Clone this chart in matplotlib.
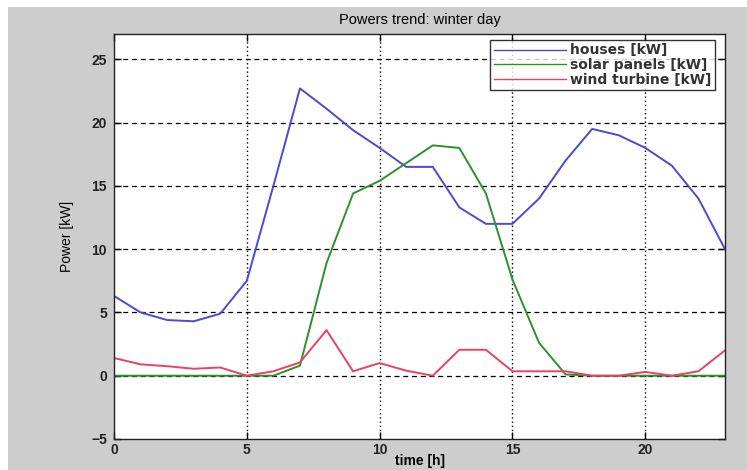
import matplotlib
matplotlib.use("Agg")
import matplotlib.pyplot as plt
from matplotlib.patches import Rectangle

hours = list(range(24))
houses = [6.3, 5.0, 4.4, 4.3, 4.9, 7.5, 15.0, 22.7, 21.1, 19.4, 18.0, 16.5,
          16.5, 13.3, 12.0, 12.0, 14.0, 17.0, 19.5, 19.0, 18.0, 16.6, 14.0, 10.0]
solar = [0, 0, 0, 0, 0, 0, 0, 0.8, 8.9, 14.4, 15.4, 16.8,
         18.2, 18.0, 14.4, 7.6, 2.6, 0.1, 0, 0, 0, 0, 0, 0]
wind = [1.4, 0.9, 0.75, 0.55, 0.65, 0.0, 0.35, 1.05, 3.6, 0.35, 1.0, 0.4,
        0.0, 2.05, 2.05, 0.35, 0.35, 0.35, 0.0, 0.0, 0.3, 0.0, 0.35, 2.0]
series_labels = ["houses [kW]", "solar panels [kW]", "wind turbine [kW]"]
x_ticks = [0, 5, 10, 15, 20]
y_ticks = [-5, 0, 5, 10, 15, 20, 25]

W, H = 747, 470
fig = plt.figure(figsize=(W / 100, H / 100), dpi=100, facecolor="white")
bg = Rectangle((8 / W, 0), 1 - 8 / W, 1 - 7 / H,
               transform=fig.transFigure, facecolor="#cdcdcd",
               edgecolor="none", zorder=-10)
fig.patches.append(bg)

AX_L, AX_R, AX_T, AX_B = 114, 725, 34, 439
AW, AH = AX_R - AX_L, AX_B - AX_T
ax = fig.add_axes([AX_L / W, 1 - AX_B / H, AW / W, AH / H])
ax.set_zorder(1)
ax.set_facecolor("white")

ax.plot(hours, houses, color="#4a4ad2", lw=1.4, label=series_labels[0])
ax.plot(hours, solar, color="#2e8f2e", lw=1.4, label=series_labels[1])
ax.plot(hours, wind, color="#e84262", lw=1.4, label=series_labels[2])

ax.set_xlim(0, 23)
ax.set_ylim(-5, 27)
ax.set_xticks(x_ticks)
ax.set_yticks(y_ticks)

for x in x_ticks[1:]:
    ax.axvline(x, color="black", lw=1.0, ls=(0, (1, 2)), zorder=0.5)
for y in y_ticks[1:]:
    ax.axhline(y, color="black", lw=0.9, ls=(0, (4, 3)), zorder=0.5)

ax.tick_params(direction="in", top=True, right=True, length=5, width=1,
               labelsize=10)
ax.tick_params(axis="x", pad=3)
ax.tick_params(axis="y", pad=5)
for lab in ax.get_xticklabels() + ax.get_yticklabels():
    lab.set_fontfamily("Liberation Sans")
    lab.set_fontweight("bold")
    lab.set_color("#222222")
for s in ax.spines.values():
    s.set_linewidth(1.0)
    s.set_color("#222222")

ax.set_title("Powers trend: winter day", fontsize=10.5, family="Liberation Sans",
             pad=7)
ax.set_xlabel("time [h]", fontsize=10, family="Liberation Sans",
              fontweight="bold")
ax.xaxis.set_label_coords((420 - AX_L) / AW, -(461 - AX_B) / AH)
ax.xaxis.label.set_va("center")
ax.set_ylabel("Power [kW]", fontsize=10, family="Liberation Sans")
ax.yaxis.set_label_coords(-(AX_L - 67) / AW, 0.5)
ax.yaxis.label.set_va("center")

leg = ax.legend(loc="upper right",
                bbox_to_anchor=((715 - AX_L) / AW, (AX_B - 40) / AH),
                prop={"family": "DejaVu Sans", "size": 10, "weight": "bold"},
                frameon=True, fancybox=False, edgecolor="black",
                handlelength=5.2, handletextpad=0.3, borderpad=0.25,
                labelspacing=0.05, borderaxespad=0.0)
leg.get_frame().set_linewidth(1.0)
for t in leg.get_texts():
    t.set_color("#333333")
for l in leg.get_lines():
    l.set_linewidth(1.0)

fig.savefig("out.png", dpi=100, facecolor=fig.get_facecolor())
